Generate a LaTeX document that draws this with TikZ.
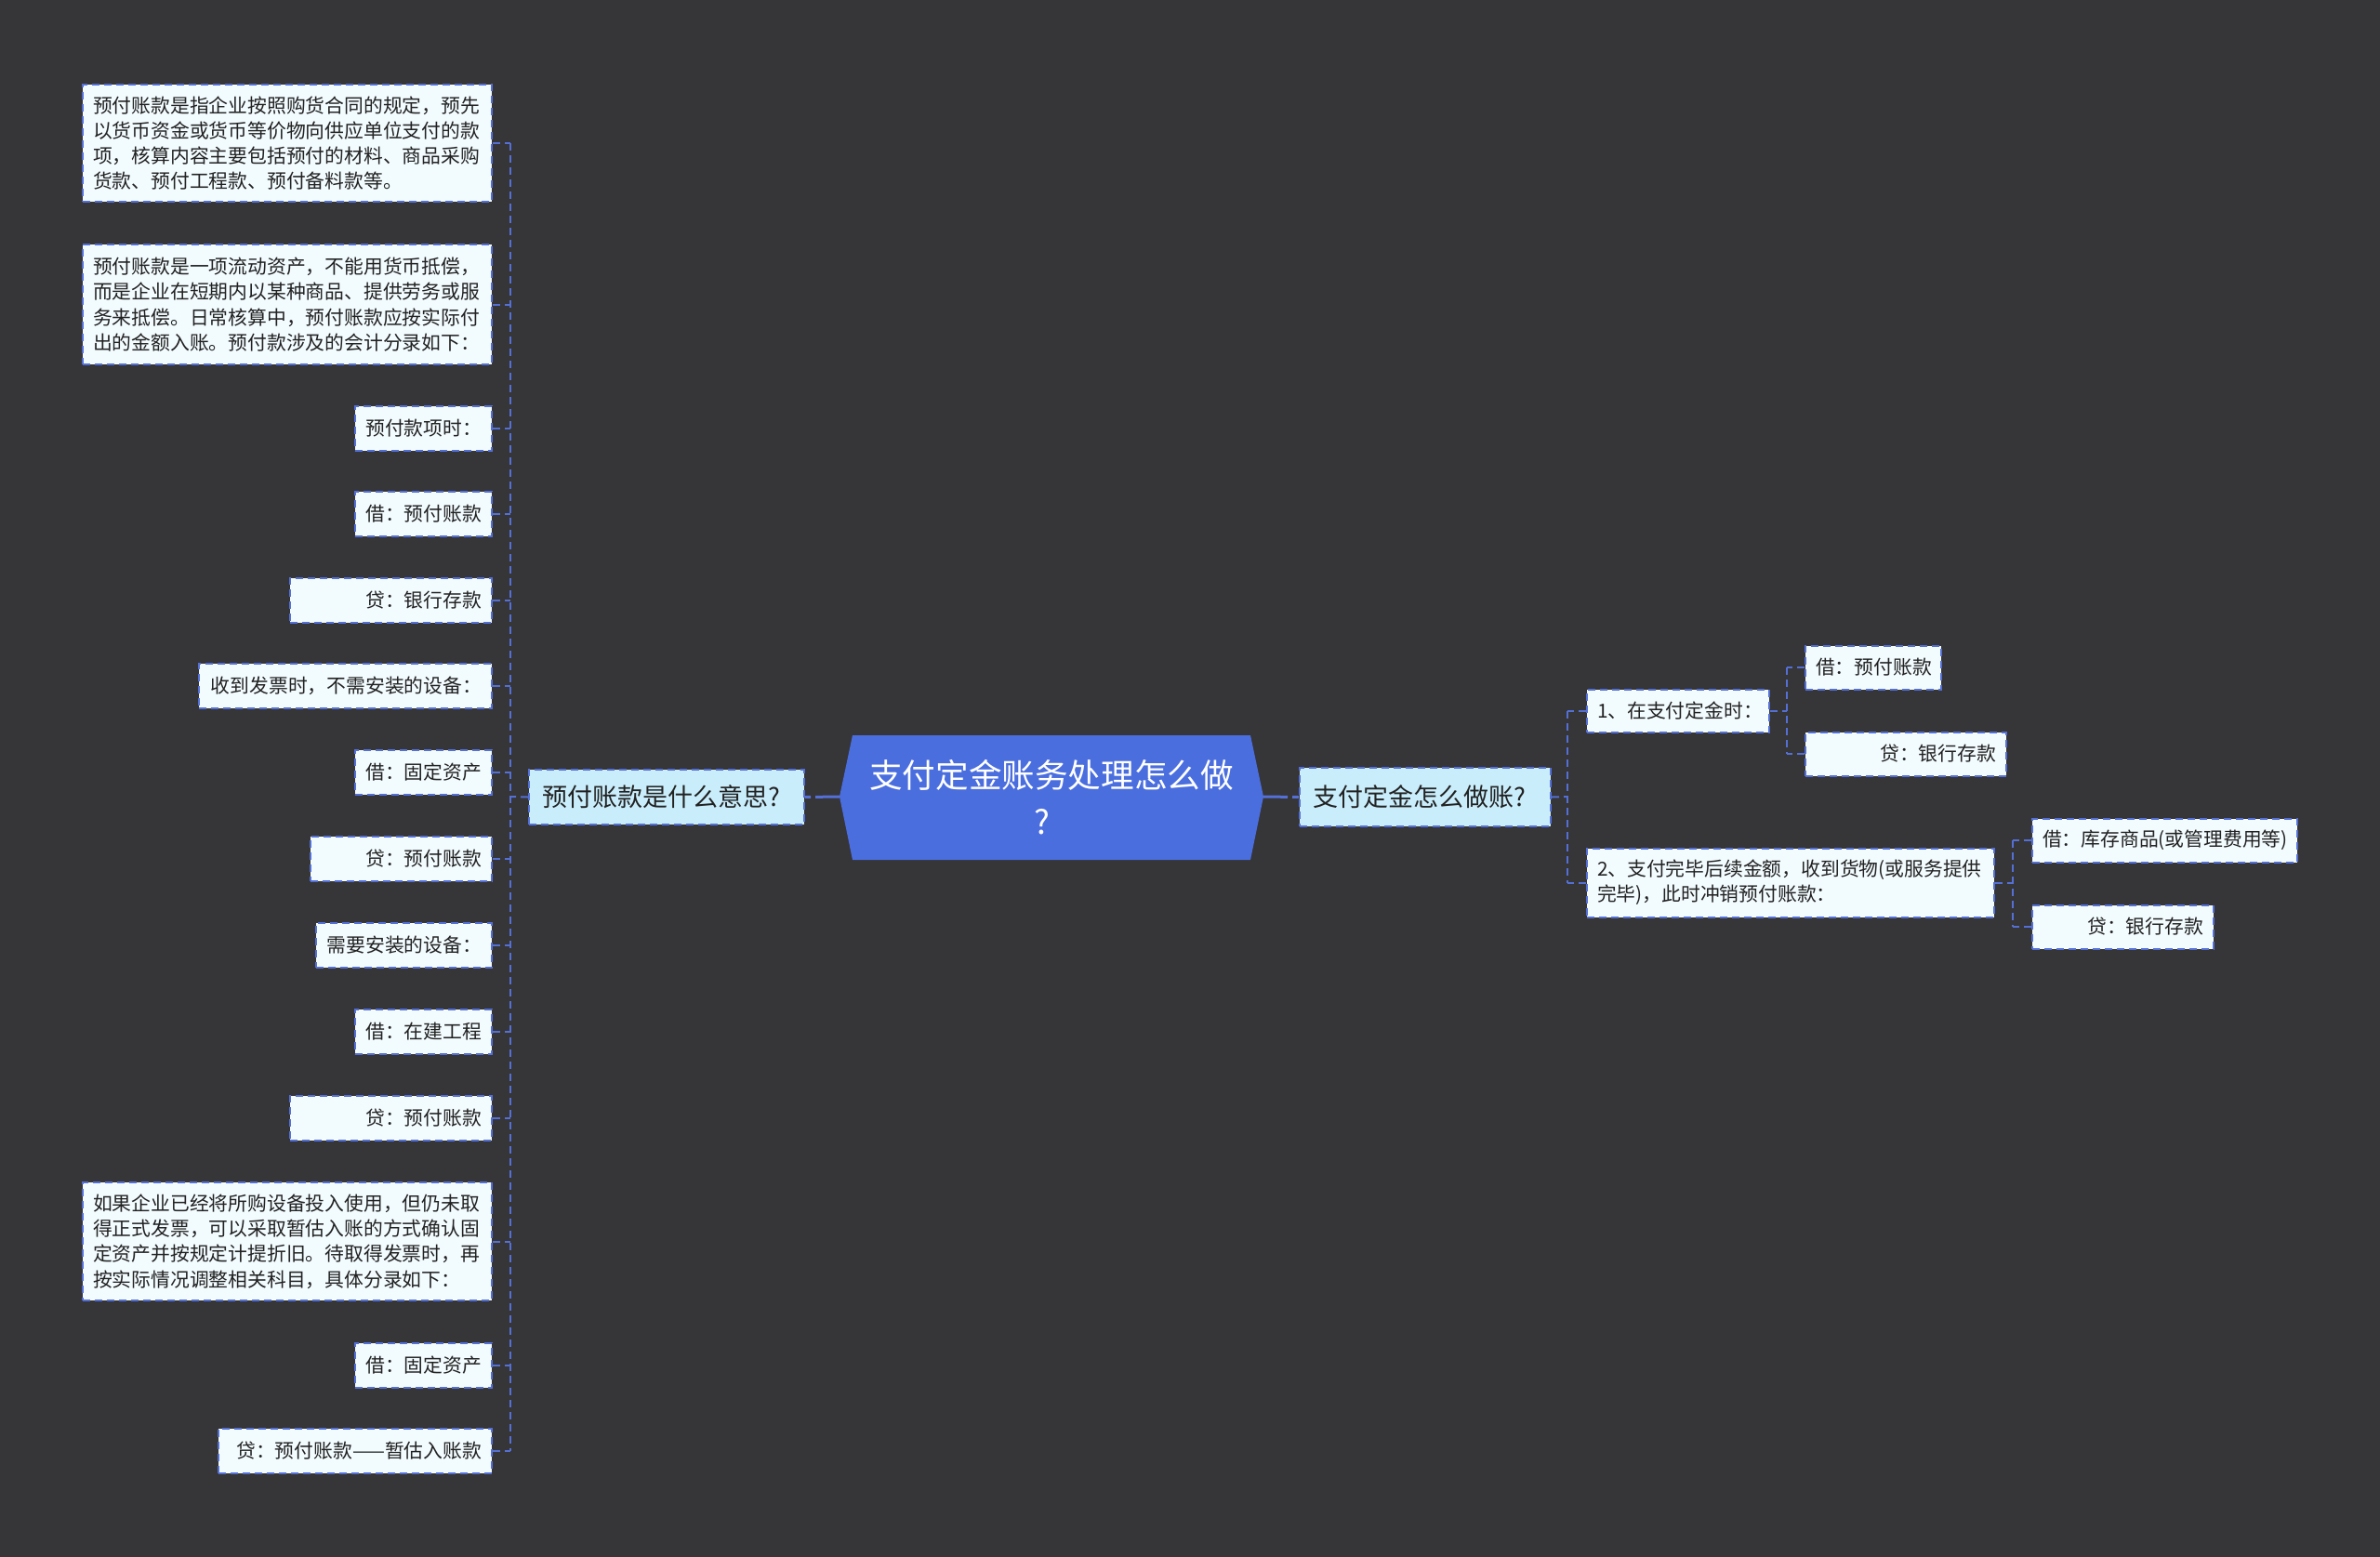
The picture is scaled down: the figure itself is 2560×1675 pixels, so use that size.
\documentclass[tikz,border=0pt]{standalone}
\usepackage{fontspec}
\setmainfont{Noto Sans CJK SC}
\usetikzlibrary{calc}
\definecolor{bgc}{HTML}{363537}
\definecolor{linec}{HTML}{5470D6}
\definecolor{leaffill}{HTML}{F2FBFE}
\definecolor{midfill}{HTML}{C9EDFB}
\definecolor{rootfill}{HTML}{4B6EDF}
\definecolor{txt}{HTML}{222222}
\tikzset{
  boxline/.style={draw=linec, line width=2pt, dash pattern=on 8pt off 5pt},
  leaf/.style={boxline, fill=leaffill, text=txt, inner xsep=11pt, inner ysep=0pt,
    font=\fontsize{20.8pt}{27.3pt}\selectfont, anchor=east},
  midbox/.style={boxline, fill=midfill, text=txt, inner xsep=14pt, inner ysep=0pt,
    font=\fontsize{27pt}{34pt}\selectfont},
  conn/.style={draw=linec, line width=2pt, dash pattern=on 8pt off 5pt},
  rootconn/.style={draw=linec, line width=3pt, dash pattern=on 26pt off 5pt},
}
\newcommand{\leafbox}[6]{% name, right x, center y, width, height, text
  \node[leaf, minimum width=#4pt, minimum height=#5pt, text width=#4pt-22pt, align=right] (#1) at (#2,#3) {#6};}
\newcommand{\leafboxl}[6]{%
  \node[leaf, minimum width=#4pt, minimum height=#5pt, text width=#4pt-22pt, align=left] (#1) at (#2,#3) {#6};}
\begin{document}
\begin{tikzpicture}[x=1pt,y=-1pt]
\fill[bgc] (0,0) rectangle (2560,1675);
\useasboundingbox (0,0) rectangle (2560,1675);

% root
\fill[rootfill] (917,791) -- (1345,791) -- (1359,857) -- (1345,925) -- (917,925) -- (903,857) -- cycle;
\node[text=white, font=\fontsize{35.6pt}{50pt}\selectfont, align=center, inner sep=0pt] (root) at (1131,858) {支付定金账务处理怎么做\\\hspace*{-20pt}?};
\coordinate (rootW) at (903,857);
\coordinate (rootE) at (1359,857);

% mid nodes
\node[midbox, minimum width=296pt, minimum height=59pt, anchor=west, text width=268pt, align=left] (L) at (568,857.5) {预付账款是什么意思?};
\node[midbox, minimum width=270pt, minimum height=63pt, anchor=west, text width=242pt, align=left] (R) at (1397,857.5) {支付定金怎么做账?};

\draw[rootconn] (rootW) -- (L.east);
\draw[rootconn] (rootE) -- (R.west);

% left leaves
\leafboxl{a1}{530}{154}{440}{126}{预付账款是指企业按照购货合同的规定，预先\\以货币资金或货币等价物向供应单位支付的款\\项，核算内容主要包括预付的材料、商品采购\\货款、预付工程款、预付备料款等。}
\leafboxl{a2}{530}{327.5}{440}{129}{预付账款是一项流动资产，不能用货币抵偿，\\而是企业在短期内以某种商品、提供劳务或服\\务来抵偿。日常核算中，预付账款应按实际付\\出的金额入账。预付款涉及的会计分录如下：}
\leafbox{a3}{530}{461}{147}{48}{预付款项时：}
\leafbox{a4}{530}{553}{147}{48}{借：预付账款}
\leafbox{a5}{530}{646}{217}{48}{贷：银行存款}
\leafbox{a6}{530}{738}{315}{48}{收到发票时，不需安装的设备：}
\leafbox{a7}{530}{831}{147}{48}{借：固定资产}
\leafbox{a8}{530}{924}{195}{48}{贷：预付账款}
\leafbox{a9}{530}{1017}{189}{48}{需要安装的设备：}
\leafbox{a10}{530}{1110}{147}{48}{借：在建工程}
\leafbox{a11}{530}{1203}{217}{48}{贷：预付账款}
\leafboxl{a12}{530}{1335.5}{440}{127}{如果企业已经将所购设备投入使用，但仍未取\\得正式发票，可以采取暂估入账的方式确认固\\定资产并按规定计提折旧。待取得发票时，再\\按实际情况调整相关科目，具体分录如下：}
\leafbox{a13}{530}{1469}{147}{48}{借：固定资产}
\leafbox{a14}{530}{1561}{294}{48}{贷：预付账款——暂估入账款}

\coordinate (ls) at (549,857);
\draw[conn] (L.west) -- (ls);
\draw[conn] (a1.east -| ls) -- (a14.east -| ls);
\foreach \n in {a1,a2,a3,a4,a5,a6,a7,a8,a9,a10,a11,a12,a13,a14}
  \draw[conn] (\n.east) -- (\n.east -| ls);

% right side
\node[leaf, anchor=west, minimum width=196pt, minimum height=46pt, text width=174pt, align=left] (b1) at (1706,765) {1、在支付定金时：};
\node[leaf, anchor=west, minimum width=438pt, minimum height=74pt, text width=416pt, align=left] (b2) at (1706,949.5) {2、支付完毕后续金额，收到货物(或服务提供\\完毕)，此时冲销预付账款：};
\coordinate (rs) at (1686,857);
\draw[conn] (R.east) -- (rs);
\draw[conn] (b1.west -| rs) -- (b2.west -| rs);
\draw[conn] (b1.west) -- (b1.west -| rs);
\draw[conn] (b2.west) -- (b2.west -| rs);

\node[leaf, anchor=west, minimum width=146pt, minimum height=47pt, text width=124pt, align=right] (c1) at (1941,718) {借：预付账款};
\node[leaf, anchor=west, minimum width=216pt, minimum height=47pt, text width=194pt, align=right] (c2) at (1941,811) {贷：银行存款};
\coordinate (rs1) at (1922,765);
\draw[conn] (b1.east) -- (rs1);
\draw[conn] (c1.west -| rs1) -- (c2.west -| rs1);
\draw[conn] (c1.west) -- (c1.west -| rs1);
\draw[conn] (c2.west) -- (c2.west -| rs1);

\node[leaf, anchor=west, minimum width=285pt, minimum height=47pt, text width=263pt, align=left] (d1) at (2185,904) {借：库存商品(或管理费用等)};
\node[leaf, anchor=west, minimum width=195pt, minimum height=47pt, text width=173pt, align=right] (d2) at (2185,997) {贷：银行存款};
\coordinate (rs2) at (2165,949.5);
\draw[conn] (b2.east) -- (rs2);
\draw[conn] (d1.west -| rs2) -- (d2.west -| rs2);
\draw[conn] (d1.west) -- (d1.west -| rs2);
\draw[conn] (d2.west) -- (d2.west -| rs2);
\end{tikzpicture}
\end{document}
